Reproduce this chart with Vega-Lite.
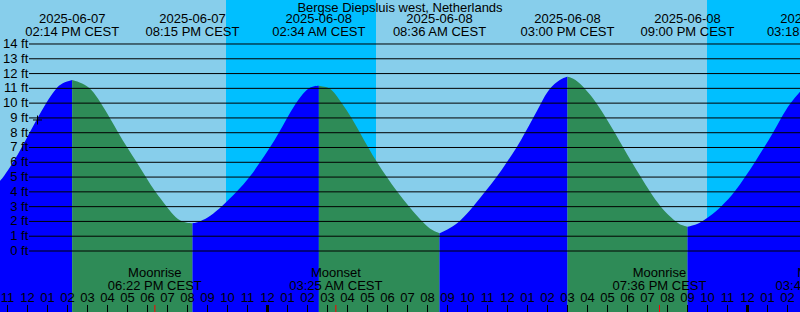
{
  "$schema": "https://vega.github.io/schema/vega-lite/v6.json",
  "width": 800,
  "height": 312,
  "padding": 0,
  "autosize": {"type": "none"},
  "background": "#87CEEB",
  "config": {"view": {"stroke": null}},
  "datasets": {
    "nights": [
      {"t": "2025-06-07T21:55:30Z", "t2": "2025-06-08T05:25:30Z"},
      {"t": "2025-06-08T21:58:30Z", "t2": "2025-06-09T02:37:30Z"}
    ],
    "tide": [
      {"t": "2025-06-07T10:37:30Z", "ft": 4.75, "seg": "A", "phase": "rising"},
      {"t": "2025-06-07T10:48:00Z", "ft": 5, "seg": "A", "phase": "rising"},
      {"t": "2025-06-07T11:17:00Z", "ft": 6, "seg": "A", "phase": "rising"},
      {"t": "2025-06-07T11:43:00Z", "ft": 7, "seg": "A", "phase": "rising"},
      {"t": "2025-06-07T12:06:00Z", "ft": 8, "seg": "A", "phase": "rising"},
      {"t": "2025-06-07T12:30:00Z", "ft": 9, "seg": "A", "phase": "rising"},
      {"t": "2025-06-07T12:55:00Z", "ft": 10, "seg": "A", "phase": "rising"},
      {"t": "2025-06-07T13:25:00Z", "ft": 11, "seg": "A", "phase": "rising"},
      {"t": "2025-06-07T13:44:00Z", "ft": 11.38, "seg": "A", "phase": "rising"},
      {"t": "2025-06-07T14:14:00Z", "ft": 11.56, "seg": "A", "phase": "rising"},
      {"t": "2025-06-07T14:14:00Z", "ft": 11.56, "seg": "B", "phase": "falling"},
      {"t": "2025-06-07T14:44:00Z", "ft": 11.36, "seg": "B", "phase": "falling"},
      {"t": "2025-06-07T15:13:00Z", "ft": 10.95, "seg": "B", "phase": "falling"},
      {"t": "2025-06-07T15:37:30Z", "ft": 10.1, "seg": "B", "phase": "falling"},
      {"t": "2025-06-07T16:07:30Z", "ft": 9, "seg": "B", "phase": "falling"},
      {"t": "2025-06-07T16:32:00Z", "ft": 8, "seg": "B", "phase": "falling"},
      {"t": "2025-06-07T16:59:00Z", "ft": 7, "seg": "B", "phase": "falling"},
      {"t": "2025-06-07T17:28:00Z", "ft": 6, "seg": "B", "phase": "falling"},
      {"t": "2025-06-07T17:55:00Z", "ft": 5, "seg": "B", "phase": "falling"},
      {"t": "2025-06-07T18:22:30Z", "ft": 4, "seg": "B", "phase": "falling"},
      {"t": "2025-06-07T18:58:00Z", "ft": 3, "seg": "B", "phase": "falling"},
      {"t": "2025-06-07T19:25:30Z", "ft": 2.2, "seg": "B", "phase": "falling"},
      {"t": "2025-06-07T19:49:30Z", "ft": 1.93, "seg": "B", "phase": "falling"},
      {"t": "2025-06-07T20:15:00Z", "ft": 1.87, "seg": "B", "phase": "falling"},
      {"t": "2025-06-07T20:15:00Z", "ft": 1.87, "seg": "C", "phase": "rising"},
      {"t": "2025-06-07T20:37:30Z", "ft": 1.98, "seg": "C", "phase": "rising"},
      {"t": "2025-06-07T21:07:30Z", "ft": 2.32, "seg": "C", "phase": "rising"},
      {"t": "2025-06-07T21:43:00Z", "ft": 3, "seg": "C", "phase": "rising"},
      {"t": "2025-06-07T22:28:00Z", "ft": 4, "seg": "C", "phase": "rising"},
      {"t": "2025-06-07T23:07:30Z", "ft": 5, "seg": "C", "phase": "rising"},
      {"t": "2025-06-07T23:37:30Z", "ft": 6, "seg": "C", "phase": "rising"},
      {"t": "2025-06-08T00:07:30Z", "ft": 7, "seg": "C", "phase": "rising"},
      {"t": "2025-06-08T00:34:30Z", "ft": 8, "seg": "C", "phase": "rising"},
      {"t": "2025-06-08T00:58:30Z", "ft": 9, "seg": "C", "phase": "rising"},
      {"t": "2025-06-08T01:24:00Z", "ft": 10, "seg": "C", "phase": "rising"},
      {"t": "2025-06-08T01:55:30Z", "ft": 10.9, "seg": "C", "phase": "rising"},
      {"t": "2025-06-08T02:12:00Z", "ft": 11.12, "seg": "C", "phase": "rising"},
      {"t": "2025-06-08T02:34:00Z", "ft": 11.18, "seg": "C", "phase": "rising"},
      {"t": "2025-06-08T02:34:00Z", "ft": 11.18, "seg": "D", "phase": "falling"},
      {"t": "2025-06-08T02:55:30Z", "ft": 11.1, "seg": "D", "phase": "falling"},
      {"t": "2025-06-08T03:13:00Z", "ft": 10.95, "seg": "D", "phase": "falling"},
      {"t": "2025-06-08T03:43:00Z", "ft": 10, "seg": "D", "phase": "falling"},
      {"t": "2025-06-08T04:13:00Z", "ft": 9, "seg": "D", "phase": "falling"},
      {"t": "2025-06-08T04:37:30Z", "ft": 8, "seg": "D", "phase": "falling"},
      {"t": "2025-06-08T05:02:00Z", "ft": 7, "seg": "D", "phase": "falling"},
      {"t": "2025-06-08T05:28:00Z", "ft": 6, "seg": "D", "phase": "falling"},
      {"t": "2025-06-08T05:58:00Z", "ft": 5, "seg": "D", "phase": "falling"},
      {"t": "2025-06-08T06:28:30Z", "ft": 4, "seg": "D", "phase": "falling"},
      {"t": "2025-06-08T07:05:00Z", "ft": 3, "seg": "D", "phase": "falling"},
      {"t": "2025-06-08T07:43:00Z", "ft": 2, "seg": "D", "phase": "falling"},
      {"t": "2025-06-08T08:07:30Z", "ft": 1.47, "seg": "D", "phase": "falling"},
      {"t": "2025-06-08T08:36:00Z", "ft": 1.2, "seg": "D", "phase": "falling"},
      {"t": "2025-06-08T08:36:00Z", "ft": 1.2, "seg": "E", "phase": "rising"},
      {"t": "2025-06-08T09:07:30Z", "ft": 1.53, "seg": "E", "phase": "rising"},
      {"t": "2025-06-08T09:37:30Z", "ft": 2, "seg": "E", "phase": "rising"},
      {"t": "2025-06-08T10:17:00Z", "ft": 3, "seg": "E", "phase": "rising"},
      {"t": "2025-06-08T10:52:30Z", "ft": 4, "seg": "E", "phase": "rising"},
      {"t": "2025-06-08T11:28:00Z", "ft": 5, "seg": "E", "phase": "rising"},
      {"t": "2025-06-08T11:58:00Z", "ft": 6, "seg": "E", "phase": "rising"},
      {"t": "2025-06-08T12:28:00Z", "ft": 7, "seg": "E", "phase": "rising"},
      {"t": "2025-06-08T12:52:30Z", "ft": 8, "seg": "E", "phase": "rising"},
      {"t": "2025-06-08T13:17:00Z", "ft": 9, "seg": "E", "phase": "rising"},
      {"t": "2025-06-08T13:40:30Z", "ft": 10, "seg": "E", "phase": "rising"},
      {"t": "2025-06-08T14:04:30Z", "ft": 11, "seg": "E", "phase": "rising"},
      {"t": "2025-06-08T14:37:30Z", "ft": 11.62, "seg": "E", "phase": "rising"},
      {"t": "2025-06-08T15:00:00Z", "ft": 11.79, "seg": "E", "phase": "rising"},
      {"t": "2025-06-08T15:00:00Z", "ft": 11.79, "seg": "F", "phase": "falling"},
      {"t": "2025-06-08T15:22:30Z", "ft": 11.64, "seg": "F", "phase": "falling"},
      {"t": "2025-06-08T15:52:30Z", "ft": 11, "seg": "F", "phase": "falling"},
      {"t": "2025-06-08T16:28:30Z", "ft": 10, "seg": "F", "phase": "falling"},
      {"t": "2025-06-08T16:55:30Z", "ft": 9, "seg": "F", "phase": "falling"},
      {"t": "2025-06-08T17:22:30Z", "ft": 8, "seg": "F", "phase": "falling"},
      {"t": "2025-06-08T17:47:00Z", "ft": 7, "seg": "F", "phase": "falling"},
      {"t": "2025-06-08T18:13:00Z", "ft": 6, "seg": "F", "phase": "falling"},
      {"t": "2025-06-08T18:40:00Z", "ft": 5, "seg": "F", "phase": "falling"},
      {"t": "2025-06-08T19:07:30Z", "ft": 4, "seg": "F", "phase": "falling"},
      {"t": "2025-06-08T19:37:30Z", "ft": 3, "seg": "F", "phase": "falling"},
      {"t": "2025-06-08T20:22:30Z", "ft": 2, "seg": "F", "phase": "falling"},
      {"t": "2025-06-08T20:43:30Z", "ft": 1.72, "seg": "F", "phase": "falling"},
      {"t": "2025-06-08T21:00:00Z", "ft": 1.64, "seg": "F", "phase": "falling"},
      {"t": "2025-06-08T21:00:00Z", "ft": 1.64, "seg": "G", "phase": "rising"},
      {"t": "2025-06-08T21:22:30Z", "ft": 1.75, "seg": "G", "phase": "rising"},
      {"t": "2025-06-08T21:47:00Z", "ft": 2, "seg": "G", "phase": "rising"},
      {"t": "2025-06-08T22:43:00Z", "ft": 3, "seg": "G", "phase": "rising"},
      {"t": "2025-06-08T23:22:30Z", "ft": 4, "seg": "G", "phase": "rising"},
      {"t": "2025-06-08T23:52:30Z", "ft": 5, "seg": "G", "phase": "rising"},
      {"t": "2025-06-09T00:22:30Z", "ft": 6, "seg": "G", "phase": "rising"},
      {"t": "2025-06-09T00:49:30Z", "ft": 7, "seg": "G", "phase": "rising"},
      {"t": "2025-06-09T01:17:00Z", "ft": 8, "seg": "G", "phase": "rising"},
      {"t": "2025-06-09T01:40:30Z", "ft": 9, "seg": "G", "phase": "rising"},
      {"t": "2025-06-09T02:07:30Z", "ft": 10, "seg": "G", "phase": "rising"},
      {"t": "2025-06-09T02:37:30Z", "ft": 10.77, "seg": "G", "phase": "rising"}
    ],
    "levels": [
      {"ft": 0, "label": "0 ft"}, {"ft": 1, "label": "1 ft"}, {"ft": 2, "label": "2 ft"},
      {"ft": 3, "label": "3 ft"}, {"ft": 4, "label": "4 ft"}, {"ft": 5, "label": "5 ft"},
      {"ft": 6, "label": "6 ft"}, {"ft": 7, "label": "7 ft"}, {"ft": 8, "label": "8 ft"},
      {"ft": 9, "label": "9 ft"}, {"ft": 10, "label": "10 ft"}, {"ft": 11, "label": "11 ft"},
      {"ft": 12, "label": "12 ft"}, {"ft": 13, "label": "13 ft"}, {"ft": 14, "label": "14 ft"}
    ],
    "hours": [
      {"t": "2025-06-07T11:00:00Z", "label": "11"}, {"t": "2025-06-07T12:00:00Z", "label": "12"},
      {"t": "2025-06-07T13:00:00Z", "label": "01"}, {"t": "2025-06-07T14:00:00Z", "label": "02"},
      {"t": "2025-06-07T15:00:00Z", "label": "03"}, {"t": "2025-06-07T16:00:00Z", "label": "04"},
      {"t": "2025-06-07T17:00:00Z", "label": "05"}, {"t": "2025-06-07T18:00:00Z", "label": "06"},
      {"t": "2025-06-07T19:00:00Z", "label": "07"}, {"t": "2025-06-07T20:00:00Z", "label": "08"},
      {"t": "2025-06-07T21:00:00Z", "label": "09"}, {"t": "2025-06-07T22:00:00Z", "label": "10"},
      {"t": "2025-06-07T23:00:00Z", "label": "11"}, {"t": "2025-06-08T00:00:00Z", "label": "12"},
      {"t": "2025-06-08T01:00:00Z", "label": "01"}, {"t": "2025-06-08T02:00:00Z", "label": "02"},
      {"t": "2025-06-08T03:00:00Z", "label": "03"}, {"t": "2025-06-08T04:00:00Z", "label": "04"},
      {"t": "2025-06-08T05:00:00Z", "label": "05"}, {"t": "2025-06-08T06:00:00Z", "label": "06"},
      {"t": "2025-06-08T07:00:00Z", "label": "07"}, {"t": "2025-06-08T08:00:00Z", "label": "08"},
      {"t": "2025-06-08T09:00:00Z", "label": "09"}, {"t": "2025-06-08T10:00:00Z", "label": "10"},
      {"t": "2025-06-08T11:00:00Z", "label": "11"}, {"t": "2025-06-08T12:00:00Z", "label": "12"},
      {"t": "2025-06-08T13:00:00Z", "label": "01"}, {"t": "2025-06-08T14:00:00Z", "label": "02"},
      {"t": "2025-06-08T15:00:00Z", "label": "03"}, {"t": "2025-06-08T16:00:00Z", "label": "04"},
      {"t": "2025-06-08T17:00:00Z", "label": "05"}, {"t": "2025-06-08T18:00:00Z", "label": "06"},
      {"t": "2025-06-08T19:00:00Z", "label": "07"}, {"t": "2025-06-08T20:00:00Z", "label": "08"},
      {"t": "2025-06-08T21:00:00Z", "label": "09"}, {"t": "2025-06-08T22:00:00Z", "label": "10"},
      {"t": "2025-06-08T23:00:00Z", "label": "11"}, {"t": "2025-06-09T00:00:00Z", "label": "12"},
      {"t": "2025-06-09T01:00:00Z", "label": "01"}, {"t": "2025-06-09T02:00:00Z", "label": "02"}
    ],
    "midnights": [
      {"t": "2025-06-08T00:00:00Z"}, {"t": "2025-06-09T00:00:00Z"}
    ],
    "events": [
      {"t": "2025-06-07T14:14:00Z", "label": "2025-06-07\n02:14 PM CEST"},
      {"t": "2025-06-07T20:15:00Z", "label": "2025-06-07\n08:15 PM CEST"},
      {"t": "2025-06-08T02:34:00Z", "label": "2025-06-08\n02:34 AM CEST"},
      {"t": "2025-06-08T08:36:00Z", "label": "2025-06-08\n08:36 AM CEST"},
      {"t": "2025-06-08T15:00:00Z", "label": "2025-06-08\n03:00 PM CEST"},
      {"t": "2025-06-08T21:00:00Z", "label": "2025-06-08\n09:00 PM CEST"},
      {"t": "2025-06-09T03:18:00Z", "label": "2025-06-09\n03:18 AM CEST"}
    ],
    "moon": [
      {"t": "2025-06-07T18:22:00Z", "label": "Moonrise\n06:22 PM CEST"},
      {"t": "2025-06-08T03:25:00Z", "label": "Moonset\n03:25 AM CEST"},
      {"t": "2025-06-08T19:36:00Z", "label": "Moonrise\n07:36 PM CEST"},
      {"t": "2025-06-09T03:44:00Z", "label": "Moonset\n03:44 AM CEST"}
    ],
    "now": [
      {"t": "2025-06-07T12:30:00Z", "ft": 8.86}
    ],
    "station": [
      {"label": "Bergse Diepsluis west, Netherlands"}
    ]
  },
  "layer": [
    {
      "data": {"name": "nights"},
      "mark": {"type": "rect", "color": "#00BFFF"},
      "encoding": {
        "x": {
          "field": "t", "type": "temporal", "axis": null,
          "scale": {"type": "utc", "domain": [1749292650000, 1749436650000]}
        },
        "x2": {"field": "t2"},
        "y": {"datum": 16.975, "type": "quantitative", "axis": null},
        "y2": {"datum": -4.125}
      }
    },
    {
      "data": {"name": "tide"},
      "mark": {"type": "area", "interpolate": "basis"},
      "encoding": {
        "x": {"field": "t", "type": "temporal", "axis": null},
        "y": {
          "field": "ft", "type": "quantitative", "stack": null, "axis": null,
          "scale": {"domain": [-4.125, 16.975], "nice": false, "zero": false}
        },
        "y2": {"datum": -4.125},
        "detail": {"field": "seg", "type": "nominal"},
        "color": {
          "field": "phase", "type": "nominal", "legend": null,
          "scale": {"domain": ["rising", "falling"], "range": ["#0000FF", "#2E8B57"]}
        }
      }
    },
    {
      "data": {"name": "levels"},
      "mark": {"type": "rule", "color": "#000000", "strokeWidth": 1},
      "encoding": {
        "x": {"datum": 1749297870000, "type": "temporal", "axis": null},
        "x2": {"datum": 1749436650000},
        "y": {"field": "ft", "type": "quantitative", "axis": null}
      }
    },
    {
      "data": {"name": "levels"},
      "mark": {"type": "text", "align": "right", "baseline": "middle", "fontSize": 13, "font": "Liberation Sans", "color": "#000000"},
      "encoding": {
        "x": {"datum": 1749297750000, "type": "temporal", "axis": null},
        "y": {"field": "ft", "type": "quantitative", "axis": null},
        "text": {"field": "label", "type": "nominal"}
      }
    },
    {
      "data": {"name": "hours"},
      "mark": {"type": "rule", "color": "#000000", "strokeWidth": 1},
      "encoding": {
        "x": {"field": "t", "type": "temporal", "axis": null},
        "y": {"datum": -3.65, "type": "quantitative", "axis": null},
        "y2": {"datum": -4.2}
      }
    },
    {
      "data": {"name": "midnights"},
      "mark": {"type": "rule", "color": "#000000", "strokeWidth": 3},
      "encoding": {
        "x": {"field": "t", "type": "temporal", "axis": null},
        "y": {"datum": -3.65, "type": "quantitative", "axis": null},
        "y2": {"datum": -4.2}
      }
    },
    {
      "data": {"name": "hours"},
      "mark": {"type": "text", "align": "center", "baseline": "alphabetic", "fontSize": 13, "font": "Liberation Sans", "color": "#000000"},
      "encoding": {
        "x": {"field": "t", "type": "temporal", "axis": null},
        "y": {"datum": -3.45, "type": "quantitative", "axis": null},
        "text": {"field": "label", "type": "nominal"}
      }
    },
    {
      "data": {"name": "now"},
      "mark": {"type": "point", "shape": "M-1,0H1M0,-1V1", "size": 81, "filled": false, "color": "#000000", "strokeWidth": 1, "opacity": 1},
      "encoding": {
        "x": {"field": "t", "type": "temporal", "axis": null},
        "y": {"field": "ft", "type": "quantitative", "axis": null}
      }
    },
    {
      "data": {"name": "moon"},
      "mark": {"type": "rule", "color": "#FF0000", "strokeWidth": 1},
      "encoding": {
        "x": {"field": "t", "type": "temporal", "axis": null},
        "y": {"datum": -3.65, "type": "quantitative", "axis": null},
        "y2": {"datum": -4.2}
      }
    },
    {
      "data": {"name": "moon"},
      "mark": {"type": "text", "lineBreak": "\n", "align": "center", "baseline": "alphabetic", "lineHeight": 12.2, "fontSize": 13, "font": "Liberation Sans", "color": "#000000"},
      "encoding": {
        "x": {"field": "t", "type": "temporal", "axis": null},
        "y": {"datum": -1.78, "type": "quantitative", "axis": null},
        "text": {"field": "label", "type": "nominal"}
      }
    },
    {
      "data": {"name": "events"},
      "mark": {"type": "text", "lineBreak": "\n", "align": "center", "baseline": "alphabetic", "lineHeight": 12.4, "fontSize": 13, "font": "Liberation Sans", "color": "#000000"},
      "encoding": {
        "x": {"field": "t", "type": "temporal", "axis": null},
        "y": {"datum": 15.4, "type": "quantitative", "axis": null},
        "text": {"field": "label", "type": "nominal"}
      }
    },
    {
      "data": {"name": "station"},
      "mark": {"type": "text", "align": "center", "baseline": "alphabetic", "fontSize": 13, "font": "Liberation Sans", "color": "#000000"},
      "encoding": {
        "y": {"datum": 16.18, "type": "quantitative", "axis": null},
        "text": {"field": "label", "type": "nominal"}
      }
    }
  ]
}
